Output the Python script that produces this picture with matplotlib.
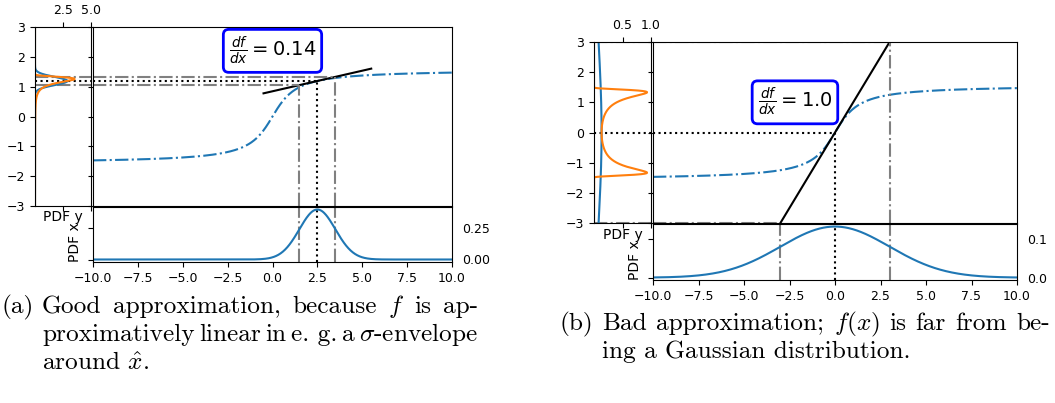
import numpy as np
import matplotlib
matplotlib.use("Agg")
import matplotlib.pyplot as plt
from matplotlib.transforms import IdentityTransform

# panel values: (a) left, (b) right
x_hat = [2.5, 0.0]
sigma_x = [1.0, 3.0]
slope_text = ["0.14", "1.0"]
pdf_y_xmax = [5.0, 1.0]
pdf_y_ticks = [[2.5, 5.0], [0.5, 1.0]]
pdf_x_ticks = [[0.0, 0.25], [0.0, 0.1]]
y_ticks = [-3, -2, -1, 0, 1, 2, 3]

cap_a1 = ["Good", "approximation,", "because", "$f$", "is", "ap-"]
cap_a2 = ["proximatively", "linear", "in", "e. g.", "a", "$\\sigma$-envelope"]
cap_a3 = "around $\\hat{x}$."
cap_b1 = ["Bad", "approximation;", "$f(x)$", "is", "far", "from", "be-"]
cap_b2 = "ing a Gaussian distribution."

W, H = 1055, 403
plt.rcParams['font.size'] = 9
plt.rcParams['axes.labelsize'] = 10
fig = plt.figure(figsize=(W / 100, H / 100), dpi=100)


def pix_axes(x0, y0, x1, y1):
    return fig.add_axes([x0 / W, 1 - y1 / H, (x1 - x0) / W, (y1 - y0) / H])


def gauss(v, mu, s):
    return np.exp(-0.5 * ((v - mu) / s) ** 2) / (s * np.sqrt(2 * np.pi))


# pixel boxes of the three axes of each panel
left_boxes = [(35, 27, 91, 206), (594, 42, 651, 223)]
main_boxes = [(93, 27, 452, 206), (653, 42, 1017, 223)]
bottom_boxes = [(93, 207, 452, 262), (653, 224, 1017, 280)]
label_pos = [(0.0, 2.2), (-2.2, 1.0)]

dashdot = dict(ls='-.', color='gray', lw=1.5)
dotted = dict(ls=':', color='k', lw=1.5)

for i in range(2):
    xh, sx = x_hat[i], sigma_x[i]
    yh = np.arctan(xh)
    k = 1.0 / (1.0 + xh ** 2)
    sy = k * sx

    ax_y = pix_axes(*left_boxes[i])
    ax = pix_axes(*main_boxes[i])
    ax_x = pix_axes(*bottom_boxes[i])

    xs = np.linspace(-10, 10, 801)
    ax.plot(xs, np.arctan(xs), '-.', color='C0', lw=1.5)
    xt = np.linspace(xh - 3 * sx, xh + 3 * sx, 50)
    ax.plot(xt, yh + k * (xt - xh), color='k', lw=1.5)

    for s in (-1, 1):
        cx, cy = xh + s * sx, yh + s * sy
        ax.plot([-10, cx], [cy, cy], **dashdot)
        ax.plot([cx, cx], [-3, cy], **dashdot)
        ax_x.axvline(cx, **dashdot)
        ax_y.axhline(cy, **dashdot)
    ax.plot([-10, xh], [yh, yh], **dotted)
    ax.plot([xh, xh], [-3, yh], **dotted)
    ax_x.axvline(xh, **dotted)
    ax_y.axhline(yh, **dotted)

    ax.set_xlim(-10, 10)
    ax.set_ylim(-3, 3)
    ax.set_yticks(y_ticks)
    ax.tick_params(labelleft=False, bottom=False, labelbottom=False)
    ax.text(*label_pos[i], "$\\frac{df}{dx} = " + slope_text[i] + "$",
            ha='center', va='center', fontsize=14,
            bbox=dict(boxstyle='round,pad=0.28', fc='white', ec='blue', lw=2))

    # bottom: pdf of x
    ax_x.plot(xs, gauss(xs, xh, sx), color='C0', lw=1.5)
    ax_x.set_xlim(-10, 10)
    ax_x.set_yticks(pdf_x_ticks[i])
    ax_x.tick_params(axis='y', labelleft=False, labelright=True)
    ax_x.set_ylabel("PDF x")
    ax_x.yaxis.set_label_coords(-0.03, 0.36)

    # left: pdf of y, linearised (blue) and true (orange)
    yg = np.linspace(-3, 3, 4001)
    inside = np.abs(yg) < np.pi / 2
    t = np.tan(np.where(inside, yg, 0.0))
    true_pdf = np.where(inside, gauss(t, xh, sx) * (1 + t ** 2), 0.0)
    ax_y.plot(gauss(yg, yh, sy), yg, color='C0', lw=1.5)
    ax_y.plot(true_pdf, yg, color='C1', lw=1.5)
    ax_y.set_ylim(-3, 3)
    ax_y.set_xlim(0, pdf_y_xmax[i])
    ax_y.set_yticks(y_ticks)
    ax_y.set_xticks(pdf_y_ticks[i])
    ax_y.tick_params(axis='x', top=True, labeltop=True, labelbottom=False)
    ax_y.set_xlabel("PDF y", labelpad=1)
    ax_y.xaxis.set_label_coords(0.5, -0.025)
    ax_y.xaxis.label.set_va('top')

# captions, justified like the LaTeX subcaptions
renderer = fig.canvas.get_renderer()
cap_kw = dict(family='cmr10', math_fontfamily='cm',
              transform=IdentityTransform(), va='baseline', ha='left')


def natural_size(words, width):
    probe = fig.text(0, 0, " ".join(words), fontsize=10, **cap_kw)
    w = probe.get_window_extent(renderer).width
    probe.remove()
    return 10 * width / w


sizes = [natural_size(cap_a1, 436), natural_size(cap_a2, 436),
         natural_size(cap_b1, 448)]
cap_kw['fontsize'] = float(np.mean(sizes))


def put_line(words, x0, x1, y):
    if isinstance(words, str):
        fig.text(x0, H - y, words, **cap_kw)
        return
    ts = [fig.text(0, 0, w, **cap_kw) for w in words]
    ws = [tt.get_window_extent(renderer).width for tt in ts]
    gap = (x1 - x0 - sum(ws)) / (len(ws) - 1)
    x = x0
    for tt, w in zip(ts, ws):
        tt.set_position((x, H - y))
        x += w + gap


fig.text(1, H - 313, "(a)", **cap_kw)
put_line(cap_a1, 42, 478, 313)
put_line(cap_a2, 42, 478, 341)
put_line(cap_a3, 42, None, 369)
fig.text(560, H - 330, "(b)", **cap_kw)
put_line(cap_b1, 602, 1050, 330)
put_line(cap_b2, 602, None, 358)

fig.savefig("out.png", dpi=100)
